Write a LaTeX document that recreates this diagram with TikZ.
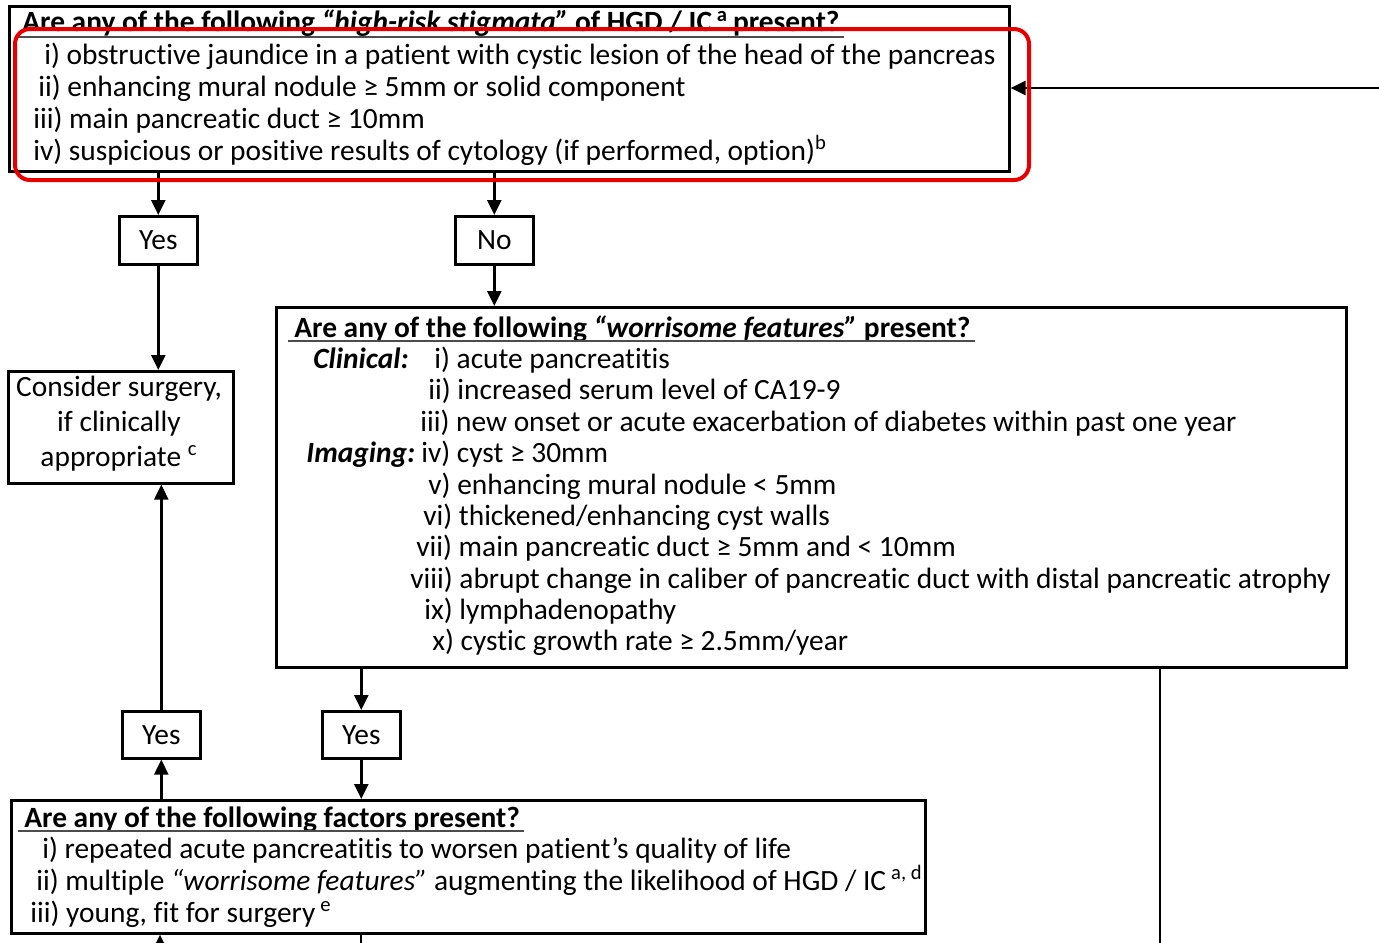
\documentclass[tikz,border=0pt]{standalone}
\usepackage{fontspec}
\setmainfont[Ligatures=NoCommon]{Carlito}
\usetikzlibrary{arrows.meta,calc}
\definecolor{hl}{RGB}{232,0,0}
\begin{document}
\begin{tikzpicture}[x=0.5pt,y=-0.5pt,
 box/.style={draw, line width=1.3pt, inner sep=0pt, anchor=north west},
 txt/.style={anchor=base west, inner sep=0pt, font=\fontsize{14.7}{17}\selectfont},
 ctxt/.style={anchor=base, inner sep=0pt, font=\fontsize{14.7}{17}\selectfont},
 lbl/.style={inner sep=0pt, font=\fontsize{14.7}{17}\selectfont},
 arr/.style={line width=1.2pt, -{Triangle[length=7.5pt,width=7pt]}},
 ln/.style={line width=1.2pt},
 ul/.style={line width=0.7pt, black!70}]
\useasboundingbox (0,0) rectangle (1379,942);
% boxes
\node[box, minimum width=500pt, minimum height=82.5pt] (top) at (8,5) {};
\node[box, minimum width=39pt, minimum height=24pt] (yes1) at (118,215) {};
\node[box, minimum width=39pt, minimum height=24pt] (no) at (454,215) {};
\node[box, minimum width=112.5pt, minimum height=56pt] (cons) at (7,370) {};
\node[box, minimum width=535pt, minimum height=180pt] (worr) at (275,306) {};
\node[box, minimum width=39pt, minimum height=23.5pt] (yes2) at (121,710) {};
\node[box, minimum width=39pt, minimum height=23.5pt] (yes3) at (321,710) {};
\node[box, minimum width=457pt, minimum height=66.5pt] (fact) at (10,799) {};
% box labels
\node[lbl] (yes1t) at (yes1.center) {Yes};
\node[lbl] (not) at (no.center) {No};
\node[lbl] (yes2t) at (yes2.center) {Yes};
\node[lbl] (yes3t) at (yes3.center) {Yes};
\node[ctxt] (c1) at (119,396) {Consider surgery,};
\node[ctxt] (c2) at (119,431) {if clinically};
\node[ctxt] (c3) at (119,466) {appropriate \textsuperscript{c}};
% top box text
\node[txt] (t0) at (22,32) {\textbf{Are any of the following \textit{“high-risk stigmata”} of HGD / IC\,\textsuperscript{a}\,present?}};
\draw[ul] ($(t0.base west |- 0,37)+(-4,0)$) -- ($(t0.east |- 0,37)+(4,0)$);
\node[txt] (t1) at (44,64) {i) obstructive jaundice in a patient with cystic lesion of the head of the pancreas};
\node[txt] (t2) at (38,96) {ii) enhancing mural nodule ≥ 5mm or solid component};
\node[txt] (t3) at (33,128) {iii) main pancreatic duct ≥ 10mm};
\node[txt] (t4) at (33,160) {iv) suspicious or positive results of cytology (if performed, option)\textsuperscript{b}};
% worrisome text
\node[txt] (w0) at (294,337) {\textbf{Are any of the following \textit{“worrisome features”} present?}};
\draw[ul] ($(w0.base west |- 0,341)+(-6,0)$) -- ($(w0.east |- 0,341)+(4,0)$);
\node[txt] (wc) at (313,368) {\textbf{\textit{Clinical:}}};
\node[txt] (w1) at (434,368) {i) acute pancreatitis};
\node[txt] (w2) at (428,399) {ii) increased serum level of CA19-9};
\node[txt] (w3) at (420,431) {iii) new onset or acute exacerbation of diabetes within past one year};
\node[txt] (wi) at (306,462) {\textbf{\textit{Imaging:}}};
\node[txt] (w4) at (421,462) {iv) cyst ≥ 30mm};
\node[txt] (w5) at (428,494) {v) enhancing mural nodule < 5mm};
\node[txt] (w6) at (423,525) {vi) thickened/enhancing cyst walls};
\node[txt] (w7) at (416,556) {vii) main pancreatic duct ≥ 5mm and < 10mm};
\node[txt] (w8) at (410,588) {viii) abrupt change in caliber of pancreatic duct with distal pancreatic atrophy};
\node[txt] (w9) at (424,619) {ix) lymphadenopathy};
\node[txt] (w10) at (432,650) {x) cystic growth rate ≥ 2.5mm/year};
% factors text
\node[txt] (f0) at (24,827) {\textbf{Are any of the following factors present?}};
\draw[ul] ($(f0.base west |- 0,831)+(-6,0)$) -- ($(f0.east |- 0,831)+(4,0)$);
\node[txt] (f1) at (42,858) {i) repeated acute pancreatitis to worsen patient’s quality of life};
\node[txt] (f2) at (36,890) {ii) multiple \textit{“worrisome features”} augmenting the likelihood of HGD / IC\,\textsuperscript{a, d}};
\node[txt] (f3) at (30,922) {iii) young, fit for surgery\,\textsuperscript{e}};
% connectors
\draw[arr] (top.south -| yes1.north) -- (yes1.north);
\draw[arr] (top.south -| no.north) -- (no.north);
\draw[arr] (yes1.south) -- (yes1.south |- cons.north);
\draw[arr] (no.south) -- (no.south |- worr.north);
\draw[arr] (worr.south -| yes3.north) -- (yes3.north);
\draw[arr] (yes3.south) -- (yes3.south |- fact.north);
\draw[arr] (fact.north -| yes2.south) -- (yes2.south);
\draw[arr] (yes2.north) -- (yes2.north |- cons.south);
\coordinate (b1) at (160,945);
\draw[arr] (b1) -- (b1 |- fact.south);
\coordinate (b2) at (361,945);
\draw[ln] (fact.south -| b2) -- (b2);
\coordinate (r) at (1160,945);
\draw[ln] (worr.south -| r) -- (r);
\coordinate (rin) at (1382,88);
\draw[arr] (rin) -- (rin -| top.east);
% highlight
\node[draw=hl, line width=2pt, rounded corners=7.5pt, minimum width=507pt, minimum height=75.5pt, anchor=north west, inner sep=0pt] (hlbox) at (13,27) {};
\end{tikzpicture}
\end{document}
